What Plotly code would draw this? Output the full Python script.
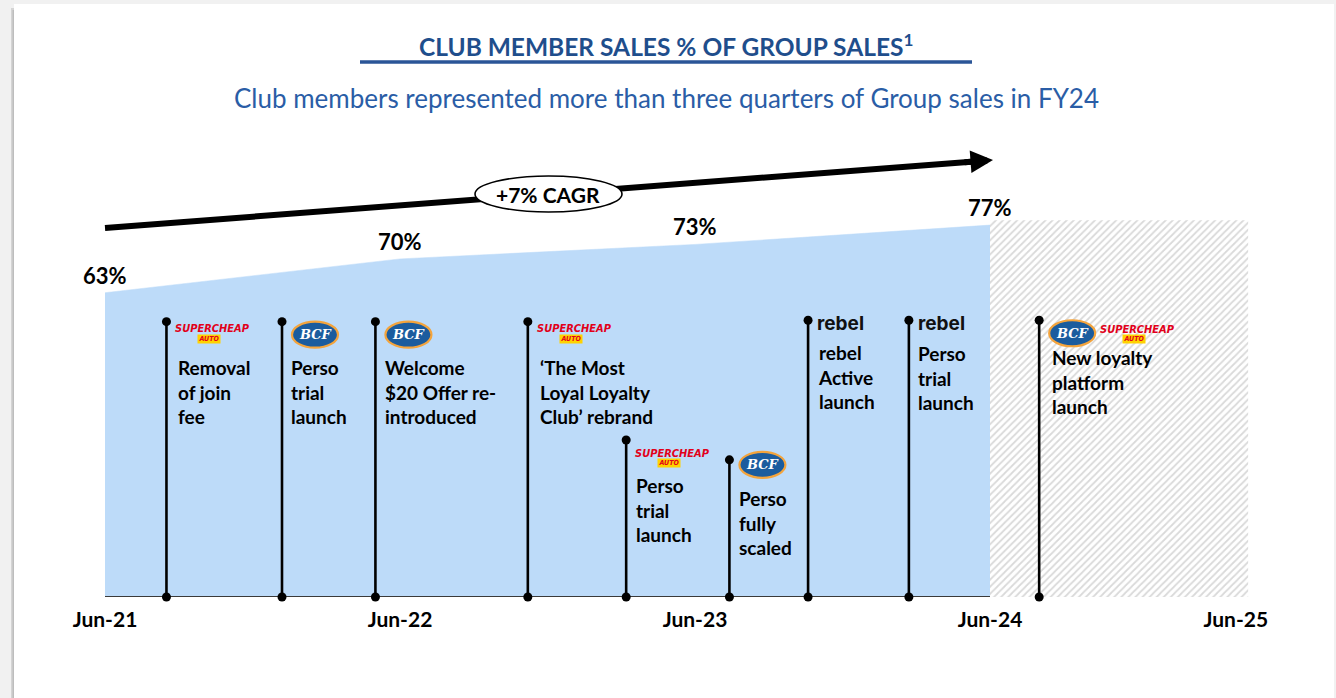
import plotly.graph_objects as go

# ---------------- data ----------------
periods = ["Jun-21", "Jun-22", "Jun-23", "Jun-24", "Jun-25"]
period_pos = [0, 12, 24, 36, 46.0]            # months after Jun-21 as spaced on the slide
share_pos = [0, 12, 24, 36]
share_pct = [63, 70, 73, 77]
share_labels = ["63%", "70%", "73%", "77%"]
forecast_pos = [36, 46.5]
forecast_level = [78, 78]
cagr_label = "+7% CAGR"

event_pos = [2.5, 7.2, 11.0, 17.2, 21.2, 25.4, 28.6, 32.7, 38.0]
event_height = [57, 57, 57, 57, 32.5, 28.4, 57.3, 57.3, 57.3]
event_brand = [["sca"], ["bcf"], ["bcf"], ["sca"], ["sca"], ["bcf"], ["rebel"], ["rebel"], ["bcf", "sca"]]
event_text = [
    "Removal<br>of join<br>fee",
    "Perso<br>trial<br>launch",
    "Welcome<br>$20 Offer re-<br>introduced",
    "\u2018The Most<br>Loyal Loyalty<br>Club\u2019 rebrand",
    "Perso<br>trial<br>launch",
    "Perso<br>fully<br>scaled",
    "rebel<br>Active<br>launch",
    "Perso<br>trial<br>launch",
    "New loyalty<br>platform<br>launch",
]

title_text = "CLUB MEMBER SALES % OF GROUP SALES<sup>1</sup>"
subtitle_text = "Club members represented more than three quarters of Group sales in FY24"

# ---------------- geometry / style ----------------
W, H = 1336, 698
BASE = 597                 # pixel row of the 0% baseline
PX_PCT = 4.83              # pixels per percentage point
X0 = 105                   # pixel column of Jun-21
PX_M = 885 / 36            # pixels per month

logo_dy = [11, 13, 13, 11, 17, 5, 3, 3, 13]
text_dy = [32, 32, 32, 32, 32, 25, 19, 20, 24]
text_dx = [10, 7, 8, 10, 8, 8, 8, 7, 11]

FONT = "Lato, 'Open Sans', sans-serif"
NARROW = "'Liberation Sans Narrow', 'DejaVu Sans Condensed', sans-serif"
TITLE_BLUE = "#1F4E8C"
SUB_BLUE = "#2A5DA6"
AREA_BLUE = "#BDDBF9"


def pxx(px):
    return px / W


def pxy(py):
    return (BASE - py) / BASE


fig = go.Figure()

# forecast (hatched) region
fig.add_trace(go.Scatter(
    x=forecast_pos, y=forecast_level, mode="lines", fill="tozeroy",
    line=dict(width=0, color="rgba(0,0,0,0)"),
    fillcolor="white",
    fillpattern=dict(shape="/", fgcolor="#b4b4b4", bgcolor="white", size=5, solidity=0.35),
    hoverinfo="skip", showlegend=False))

# club share area
fig.add_trace(go.Scatter(
    x=share_pos, y=share_pct, mode="lines", fill="tozeroy",
    line=dict(width=0.5, color=AREA_BLUE), fillcolor=AREA_BLUE,
    hoverinfo="skip", showlegend=False))

# baseline
fig.add_trace(go.Scatter(
    x=[share_pos[0], share_pos[-1]], y=[0, 0], mode="lines",
    line=dict(width=2, color="#3a3a3a"), hoverinfo="skip", showlegend=False,
    cliponaxis=False))

# event stems
for xe, he in zip(event_pos, event_height):
    fig.add_trace(go.Scatter(
        x=[xe, xe], y=[0, he], mode="lines+markers",
        line=dict(width=2.6, color="black"),
        marker=dict(size=9, color="black"),
        hoverinfo="skip", showlegend=False, cliponaxis=False))

ann = []
shapes = []

# value labels
for xp, v, lab in zip(share_pos, share_pct, share_labels):
    ann.append(dict(x=xp, y=v, xref="x", yref="y", text=f"<b>{lab}</b>", showarrow=False,
                    yanchor="bottom", yshift=2, font=dict(family=FONT, size=22, color="black")))


def sca_logo(xe, he, dx, dy):
    # dx: pixel offset of logo left edge, dy: pixel offset of logo center below point
    return [
        dict(x=xe, y=he, xref="x", yref="y", showarrow=False, xanchor="left", yanchor="middle",
             xshift=dx - 3, yshift=-dy + 4,
             text="<b><i>SUPERCHEAP</i></b>", font=dict(family=NARROW, size=11, color="#E2001A")),
        dict(x=xe, y=he, xref="x", yref="y", showarrow=False, xanchor="center", yanchor="middle",
             xshift=dx + 33, yshift=-dy - 6, bgcolor="#FFD200", borderpad=0, width=22, height=8,
             text="<b><i>AUTO</i></b>", font=dict(family=NARROW, size=7, color="#E2001A")),
    ]


def bcf_logo(xe, he, dx, dy):
    shapes.append(dict(type="circle", xref="x", yref="y", xsizemode="pixel", ysizemode="pixel",
                       xanchor=xe, yanchor=he, x0=dx, x1=dx + 46, y0=-dy - 13, y1=-dy + 13,
                       fillcolor="#1B5C9E", line=dict(color="#F4A43C", width=2.2)))
    return [dict(x=xe, y=he, xref="x", yref="y", showarrow=False, xanchor="center", yanchor="middle",
                 xshift=dx + 23, yshift=-dy,
                 text="<b><i>BCF</i></b>",
                 font=dict(family="'DejaVu Serif', serif", size=13, color="white"))]


def rebel_logo(xe, he, dx, dy):
    return [dict(x=xe, y=he, xref="x", yref="y", showarrow=False, xanchor="left", yanchor="middle",
                 xshift=dx, yshift=-dy,
                 text="<b>rebel</b>", font=dict(family="Inter, Roboto, sans-serif", size=19, color="#111111"))]


for i, (xe, he) in enumerate(zip(event_pos, event_height)):
    dx = 8
    for b in event_brand[i]:
        if b == "sca":
            ann += sca_logo(xe, he, dx + 2, logo_dy[i])
            dx += 70
        elif b == "bcf":
            ann += bcf_logo(xe, he, dx + 2, logo_dy[i])
            dx += 52
        else:
            ann += rebel_logo(xe, he, dx - 1, logo_dy[i])
            dx += 55
    ann.append(dict(x=xe, y=he, xref="x", yref="y", showarrow=False, xanchor="left", yanchor="top",
                    align="left", xshift=text_dx[i], yshift=-text_dy[i],
                    text="<b>" + event_text[i] + "</b>",
                    font=dict(family=FONT, size=19, color="black")))

# title & subtitle
ann.append(dict(x=pxx(666), y=pxy(45), xref="paper", yref="paper", showarrow=False,
                xanchor="center", yanchor="middle",
                text="<b>" + title_text + "</b>", font=dict(family=FONT, size=24.5, color=TITLE_BLUE)))
ann.append(dict(x=pxx(666), y=pxy(98), xref="paper", yref="paper", showarrow=False,
                xanchor="center", yanchor="middle",
                text=subtitle_text, font=dict(family=FONT, size=26, color=SUB_BLUE)))

# CAGR arrow head
tail = (105, 228)
head = (993, 160)
dxh, dyh = head[0] - tail[0], head[1] - tail[1]
ln = (dxh ** 2 + dyh ** 2) ** 0.5
ann.append(dict(x=pxx(head[0]), y=pxy(head[1]), xref="paper", yref="paper", text="",
                showarrow=True, arrowhead=2, arrowsize=0.75, arrowwidth=6, arrowcolor="black",
                ax=-dxh / ln * 30, ay=-dyh / ln * 30))
ann.append(dict(x=pxx(548), y=pxy(194), xref="paper", yref="paper", showarrow=False,
                xanchor="center", yanchor="middle",
                text="<b>" + cagr_label + "</b>", font=dict(family=FONT, size=21, color="black")))

shapes += [
    # slide background
    dict(type="rect", xref="paper", yref="paper", x0=pxx(14), x1=pxx(1334), y0=pxy(H + 5), y1=pxy(4),
         fillcolor="white", line=dict(width=0), layer="below"),
    dict(type="rect", xref="paper", yref="paper", x0=pxx(11), x1=pxx(14), y0=pxy(H + 5), y1=pxy(8),
         fillcolor="#d4d4d4", line=dict(width=0), layer="below"),
    dict(type="rect", xref="paper", yref="paper", x0=pxx(12.5), x1=pxx(14), y0=pxy(H + 5), y1=pxy(10),
         fillcolor="#bdbdbd", line=dict(width=0), layer="below"),
    # title underline
    dict(type="line", xref="paper", yref="paper", x0=pxx(360), x1=pxx(972), y0=pxy(62), y1=pxy(62),
         line=dict(color="#2B5597", width=3.5)),
    # CAGR arrow shaft
    dict(type="line", xref="paper", yref="paper", x0=pxx(tail[0]), y0=pxy(tail[1]),
         x1=pxx(head[0] - dxh / ln * 12), y1=pxy(head[1] - dyh / ln * 12),
         line=dict(color="black", width=6)),
    # CAGR ellipse
    dict(type="circle", xref="paper", yref="paper", x0=pxx(475), x1=pxx(622), y0=pxy(212), y1=pxy(176),
         fillcolor="white", line=dict(color="black", width=1.6)),
]

fig.update_layout(
    width=W, height=H,
    margin=dict(l=0, r=0, t=0, b=H - BASE, pad=0),
    paper_bgcolor="#f1f1f1", plot_bgcolor="rgba(0,0,0,0)",
    showlegend=False,
    xaxis=dict(range=[-X0 / PX_M, (W - X0) / PX_M], tickvals=period_pos,
               ticktext=["<b>" + p + "</b>" for p in periods],
               showgrid=False, zeroline=False, showline=False, ticks="", ticklabelstandoff=8,
               tickfont=dict(family=FONT, size=21, color="black"), fixedrange=True),
    yaxis=dict(range=[0, BASE / PX_PCT], visible=False, fixedrange=True),
    annotations=ann, shapes=shapes,
)

fig.write_html("out.html", config={"displayModeBar": False},
               post_script="document.body.style.margin='0px';document.body.style.overflow='hidden';")
